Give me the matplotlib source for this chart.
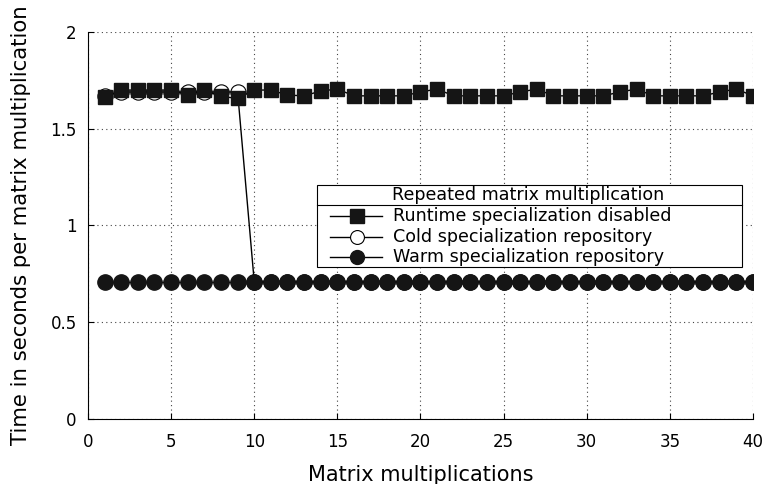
import matplotlib.pyplot as plt
from matplotlib.patches import Rectangle
import numpy as np

# data
runs = np.arange(1, 41)
disabled = [1.663, 1.70, 1.70, 1.70, 1.70, 1.674, 1.70, 1.667, 1.657, 1.70,
            1.70, 1.674, 1.67, 1.695, 1.705, 1.67, 1.67, 1.67, 1.67, 1.69,
            1.705, 1.67, 1.67, 1.67, 1.67, 1.69, 1.705, 1.67, 1.67, 1.67,
            1.67, 1.69, 1.705, 1.67, 1.67, 1.67, 1.67, 1.69, 1.705, 1.67]
cold = [1.67, 1.69, 1.69, 1.69, 1.69, 1.69, 1.69, 1.69, 1.69] + [0.71] * 31
warm = [0.71] * 40
labels = ['Runtime specialization disabled', 'Cold specialization repository',
          'Warm specialization repository']
legend_title = 'Repeated matrix multiplication'

fig = plt.figure(figsize=(7.67, 4.84), dpi=100)
ax = fig.add_axes([0.1147, 0.1343, 0.867, 0.7996])

styles = [dict(marker='s', mfc='#151515', mec='#151515', zorder=3),
          dict(marker='o', mfc='white', mec='black', mew=0.8, zorder=2),
          dict(marker='o', mfc='#151515', mec='#151515', zorder=4)]
plot_ms = [10.5, 11, 11]
leg_ms = [9.5, 10, 10]

for ys, st, ms in zip([disabled, cold, warm], styles, plot_ms):
    ax.plot(runs, ys, color='black', lw=1, ms=ms, **st)

ax.set_xlim(0, 40)
ax.set_ylim(0, 2)
ax.set_xticks(np.arange(0, 41, 5))
ax.set_yticks([0, 0.5, 1, 1.5, 2])
ax.set_yticklabels(['0', '0.5', '1', '1.5', '2'])
ax.tick_params(direction='in', length=4, labelsize=12, pad=8)
ax.tick_params(axis='x', pad=10)
ax.grid(True, linestyle=(0, (1, 3)), color='#444444', lw=0.8)
for s in ['top', 'right']:
    ax.spines[s].set_visible(False)

ax.set_xlabel('Matrix multiplications', fontsize=15, labelpad=10)
ax.set_ylabel('Time in seconds per matrix multiplication', fontsize=15.3, labelpad=14)

# gnuplot-style boxed key with a title row
ax.add_patch(Rectangle((0.344, 0.3928), 0.639, 0.2126, transform=ax.transAxes,
                       facecolor='white', edgecolor='black', lw=0.8, zorder=5))
ax.plot([0.344, 0.983], [0.553, 0.553], transform=ax.transAxes,
        color='black', lw=0.8, zorder=6)
ax.text(0.6624, 0.579, legend_title, transform=ax.transAxes, fontsize=12.6,
        ha='center', va='center', zorder=6)
row_y = [0.5253, 0.4711, 0.4194]
for y, lab, st, ms in zip(row_y, labels, styles, leg_ms):
    st = dict(st, zorder=7)
    ax.plot([0.364, 0.442], [y, y], transform=ax.transAxes, color='black',
            lw=1, zorder=6, clip_on=False)
    ax.plot([0.4045], [y], transform=ax.transAxes, ms=ms, clip_on=False, **st)
    ax.text(0.4586, y, lab, transform=ax.transAxes, fontsize=12.6,
            ha='left', va='center', zorder=6)

fig.savefig('out.png', dpi=100)
